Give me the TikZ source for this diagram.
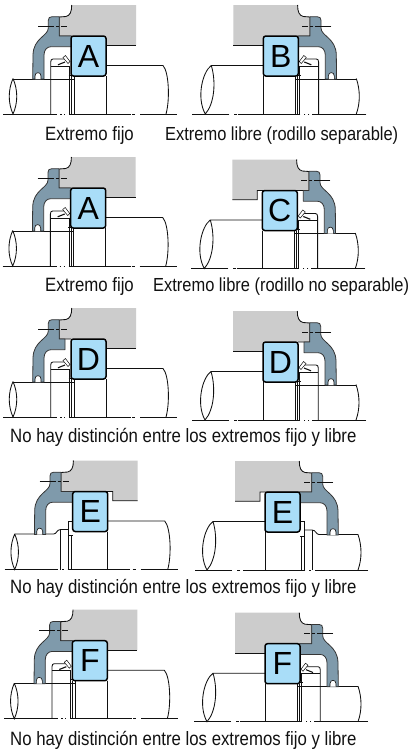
\documentclass[tikz,border=0pt]{standalone}
\usepackage{fontspec}
\setmainfont{Liberation Sans}
\newfontfamily\capfont[FakeStretch=0.87]{Liberation Sans}
\definecolor{hsgray}{HTML}{CCCCCC}
\definecolor{flblue}{HTML}{7F9AAB}
\definecolor{bxblue}{HTML}{A9DDF8}
\definecolor{ink}{HTML}{111111}
\tikzset{
  thinline/.style={draw=ink,line width=0.85pt},
  flangeshape/.style={draw=ink!85,fill=flblue,line width=0.8pt,line join=round},
  housingfill/.style={fill=hsgray,draw=none},
  centreline/.style={draw=ink,line width=0.6pt,dash pattern=on 16pt off 2pt on 3pt off 2pt on 8pt},
  letterbox/.style={draw=black,fill=bxblue,line width=1.5pt,rounded corners=2.5pt,minimum width=35pt,minimum height=40pt,inner sep=0pt,font=\fontsize{32}{32}\selectfont},
  captiontext/.style={font=\capfont\fontsize{19.3}{20}\selectfont,text=ink,inner sep=0pt,anchor=base west},
  tightcaption/.style={captiontext,font=\capfont\fontsize{18.9}{20}\selectfont}
}
% shaft ends of a left-hand unit: lens on the thin end, arc on the thick end
\newcommand\tipsleft{%
  \draw[thinline] (13,78.5) .. controls (8,90) and (8,103) .. (13,114) .. controls (18,103) and (18,90) .. (13,78.5);
  \draw[thinline] (106,65.5) -- (163,65.5) .. controls (169,72) and (170,100) .. (166,114);
}
% shaft ends of a right-hand unit: arc on the thin end, lens on the thick end
\newcommand\tipsright{%
  \draw[thinline] (13,78.5) .. controls (9,90) and (9,103) .. (13,114);
  \draw[thinline] (106,65.5) -- (158,65.5) .. controls (167,72) and (173,98) .. (164,114) .. controls (155,104) and (153,82) .. (158,65.5);
}
\newcommand\shaftplain{%
  \draw[thinline] (106,76) -- (106,114);
  \draw[thinline] (13,79) -- (74,79);
  \draw[thinline] (50.7,114) -- (50.7,62) .. controls (50.7,60) and (51.5,59) .. (53,59) -- (65,59);
  \draw[thinline] (50.7,66) -- (69.5,66) -- (69.5,114);
  \draw[ink,line width=1.1pt] (58,64.8) -- (65,62);
  \draw[thinline] (71.5,76) -- (71.5,114);
  \draw[thinline] (74,76) -- (74,114);
  \draw[thinline] (68.5,75) -- (74,75);
  \draw[draw=ink,fill=white,line width=0.5pt] (63,57.5) -- (65.5,55.5) -- (70,61.5) -- (68,63.5) -- cycle;
  \draw[thinline] (3,114) -- (57,114) (60,114) -- (61.5,114) (64,114) -- (65,114) (69,114) -- (131,114) (132,114) -- (135,114) (140,114) -- (177,114);
}
\newcommand\shaftstep{%
  \draw[thinline] (106,76) -- (106,114);
  \draw[thinline] (13,78.5) -- (52,78.5) .. controls (55,78.5) and (55,74) .. (59,74) -- (66.6,74);
  \draw[thinline] (59,74) -- (59,114);
  \draw[thinline] (66.6,114) -- (66.6,65.5) -- (71,65.5);
  \draw[thinline] (66.6,80) -- (71,80);
  \draw[thinline] (70,80) -- (70,114);
  \draw[thinline] (3,114) -- (56,114) (60.5,114) -- (62,114) (66,114) -- (128,114) (131,114) -- (134.5,114) (139,114) -- (176,114);
}
\newcommand\grayplain{%
  \fill[housingfill] (71.7,5) -- (136,5) -- (136,45.3) -- (71,45.3) -- (71,36) -- (59.3,36) -- (59.3,17) -- (66,16.5) .. controls (70,15.5) and (71.7,12) .. (71.7,5) -- cycle;
  \draw[thinline] (71.7,5) .. controls (71.7,12) and (70,15.5) .. (66,16.5) -- (59.3,17) -- (59.3,36) -- (71,36);
  \draw[thinline] (100,45.3) -- (136,45.3);
}
\newcommand\graystep{%
  \fill[housingfill] (71.7,5) -- (136,5) -- (136,45.3) -- (111,45.3) -- (111,36) -- (59.3,36) -- (59.3,17) -- (66,16.5) .. controls (70,15.5) and (71.7,12) .. (71.7,5) -- cycle;
  \draw[thinline] (71.7,5) .. controls (71.7,12) and (70,15.5) .. (66,16.5) -- (59.3,17) -- (59.3,36) -- (111,36) -- (111,45.3) -- (136,45.3);
}
\newcommand\flangepart[1]{%
  \draw[flangeshape] (59.3,16.7) -- (52,16.7) .. controls (49.5,16.7) and (48.3,18) .. (48.3,20.5) -- (48.3,28) .. controls (48.3,36) and (33.3,38) .. (33,55) -- (32.7,79) -- (44,79) -- (44,55) .. controls (44,50) and (47,46.7) .. (51,46.7) -- (#1,46.7) -- (#1,36) -- (59.3,36) -- cycle;
  \draw[draw=ink,fill=white,line width=0.6pt] (35,79) -- (35,76) .. controls (35,71.5) and (41,71.5) .. (41,76) -- (41,79);
}
\newcommand\flangelong{\flangepart{71.7}}
\newcommand\flangeshort{\flangepart{65}}
% #1 placement, #2 shaft, #3 housing, #4 flange, #5 letter, #6 node name
\newcommand\bearingunit[6]{%
  \begin{scope}[#1]
    #2
    #3
    #4
    \draw[centreline] (38,26) -- (67,26);
    \node[letterbox] (#6) at (88.5,56) {#5};
  \end{scope}
}
\begin{document}
\begin{tikzpicture}[x=1pt,y=-1pt]
\useasboundingbox (0,0) rectangle (411,750);
\fill[white] (0,0) rectangle (411,750);

\bearingunit{shift={(0,0)}}{\tipsleft\shaftplain}{\grayplain}{\flangelong}{A}{boxa}
\bearingunit{shift={(369.3,0)},xscale=-1}{\tipsright\shaftplain}{\grayplain}{\flangelong}{B}{boxb}
\node[captiontext] (capa) at (45,140) {Extremo fijo};
\node[tightcaption] (capb) at (165,140) {Extremo libre (rodillo separable)};

\bearingunit{shift={(-0.3,152)}}{\tipsleft\shaftplain}{\grayplain}{\flangelong}{A}{boxc}
\bearingunit{shift={(368.3,154.5)},xscale=-1}{\tipsright\shaftplain}{\graystep}{\flangeshort}{C}{boxd}
\node[captiontext] (capc) at (45,291) {Extremo fijo};
\node[tightcaption] (capd) at (153,291) {Extremo libre (rodillo no separable)};

\bearingunit{shift={(0,303)}}{\tipsleft\shaftplain}{\grayplain}{\flangeshort}{D}{boxe}
\bearingunit{shift={(369,306)},xscale=-1}{\tipsright\shaftplain}{\grayplain}{\flangeshort}{D}{boxf}
\node[captiontext] (cape) at (10,442) {No hay distinción entre los extremos fijo y libre};

\bearingunit{shift={(1.7,455.5)}}{\tipsleft\shaftstep}{\graystep}{\flangelong}{E}{boxg}
\bearingunit{shift={(371,456)},xscale=-1}{\tipsright\shaftstep}{\graystep}{\flangelong}{E}{boxh}
\node[captiontext] (capf) at (10,593) {No hay distinción entre los extremos fijo y libre};

\bearingunit{shift={(1.3,604.7)}}{\tipsleft\shaftplain}{\grayplain}{\flangelong}{F}{boxi}
\bearingunit{shift={(371,607.7)},xscale=-1}{\tipsright\shaftplain}{\grayplain}{\flangelong}{F}{boxj}
\node[captiontext] (capg) at (10,745) {No hay distinción entre los extremos fijo y libre};
\end{tikzpicture}
\end{document}
